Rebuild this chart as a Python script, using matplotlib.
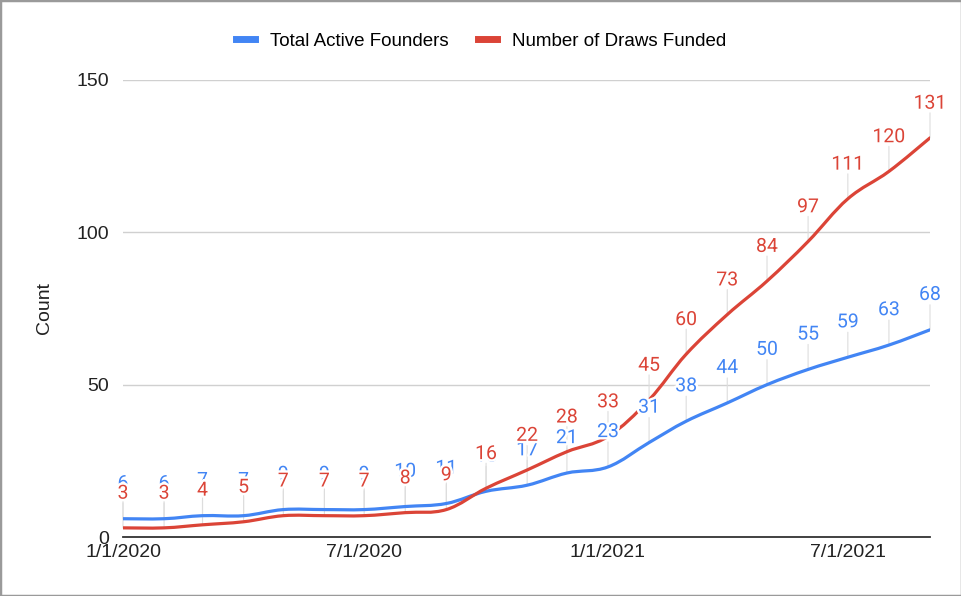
import matplotlib
matplotlib.use("Agg")
import matplotlib.pyplot as plt
import matplotlib.dates as mdates
import matplotlib.patheffects as pe
from matplotlib.path import Path
from matplotlib.patches import PathPatch, Rectangle
from matplotlib.lines import Line2D
import numpy as np
import pandas as pd

months = pd.date_range("2020-01-01", "2021-09-01", freq="MS")
founders = [6, 6, 7, 7, 9, 9, 9, 10, 11, 15, 17, 21, 23, 31, 38, 44, 50, 55, 59, 63, 68]
draws = [3, 3, 4, 5, 7, 7, 7, 8, 9, 16, 22, 28, 33, 45, 60, 73, 84, 97, 111, 120, 131]
tick_dates = ["2020-01-01", "2020-07-01", "2021-01-01", "2021-07-01"]
tick_labels = ["1/1/2020", "7/1/2020", "1/1/2021", "7/1/2021"]
series_names = ["Total Active Founders", "Number of Draws Funded"]

BLUE = "#4285F4"
RED = "#DB4437"

plt.rcParams["font.family"] = ["Liberation Sans", "DejaVu Sans"]

fig = plt.figure(figsize=(9.62, 5.96), dpi=100)
ax = fig.add_axes([123 / 962, 59 / 596, 807 / 962, 457 / 596])

x = mdates.date2num(months)


def smooth_path(xs, ys, t=0.18):
    # catmull-rom style bezier through the data points
    xs = np.asarray(xs, float)
    ys = np.asarray(ys, float)
    verts = [(xs[0], ys[0])]
    codes = [Path.MOVETO]
    n = len(xs)
    for i in range(n - 1):
        p0 = i - 1 if i > 0 else i
        p3 = i + 2 if i + 2 < n else i + 1
        c1 = (xs[i] + (xs[i + 1] - xs[p0]) * t, ys[i] + (ys[i + 1] - ys[p0]) * t)
        c2 = (xs[i + 1] - (xs[p3] - xs[i]) * t, ys[i + 1] - (ys[p3] - ys[i]) * t)
        verts += [c1, c2, (xs[i + 1], ys[i + 1])]
        codes += [Path.CURVE4] * 3
    return Path(verts, codes)


for vals, col, z in [(founders, BLUE, 3), (draws, RED, 4)]:
    ax.add_patch(PathPatch(smooth_path(x, vals), facecolor="none", edgecolor=col,
                           lw=2.3, zorder=z, capstyle="round"))

ax.set_xlim(x[0], x[-1])
ax.set_ylim(0, 150)
ax.set_yticks([0, 50, 100, 150])
ax.set_xticks(mdates.date2num(pd.to_datetime(tick_dates)))
ax.set_xticklabels(tick_labels)
ax.tick_params(length=0, labelsize=14, colors="#222222")
ax.tick_params(axis="x", pad=5)
ax.tick_params(axis="y", pad=10)
ax.grid(axis="y", color="#d0d0d0", lw=1)
ax.set_axisbelow(True)
for s in ["top", "right", "left"]:
    ax.spines[s].set_visible(False)
ax.spines["bottom"].set_color("#333333")
ax.spines["bottom"].set_linewidth(1.3)
ax.spines["bottom"].set_zorder(5)
ax.set_ylabel("Count", fontsize=14, labelpad=17, color="#222222")

# data labels with stems, white halo so they sit over the lines
for vals, col, z, base in [(founders, BLUE, 6, 21.5), (draws, RED, 8, 21)]:
    for xi, v in zip(x, vals):
        ax.annotate("", xy=(xi, v), xytext=(0, 18), textcoords="offset points",
                    arrowprops=dict(arrowstyle="-", color="#dddddd", lw=0.8,
                                    shrinkA=0, shrinkB=0), zorder=2)
        t = ax.annotate(str(v), xy=(xi, v), xytext=(0, base), textcoords="offset points",
                        ha="center", va="baseline", fontsize=14, color=col,
                        family=["Roboto", "DejaVu Sans"], zorder=z, annotation_clip=False)
        t.set_path_effects([pe.Stroke(linewidth=3.5, foreground="white"), pe.Normal()])

handles = [Line2D([0], [0], color=BLUE, lw=5), Line2D([0], [0], color=RED, lw=5)]
fig.legend(handles, series_names, loc="center", bbox_to_anchor=(0.5, 1 - 41 / 596),
           ncol=2, frameon=False, fontsize=13.5, handlelength=1.0, columnspacing=1.6,
           handletextpad=0.8)

fig.patches.append(Rectangle((0, 0), 1, 1, transform=fig.transFigure, fill=False,
                             ec="#9a9a9a", lw=2.5))

fig.savefig("out.png", dpi=100)
